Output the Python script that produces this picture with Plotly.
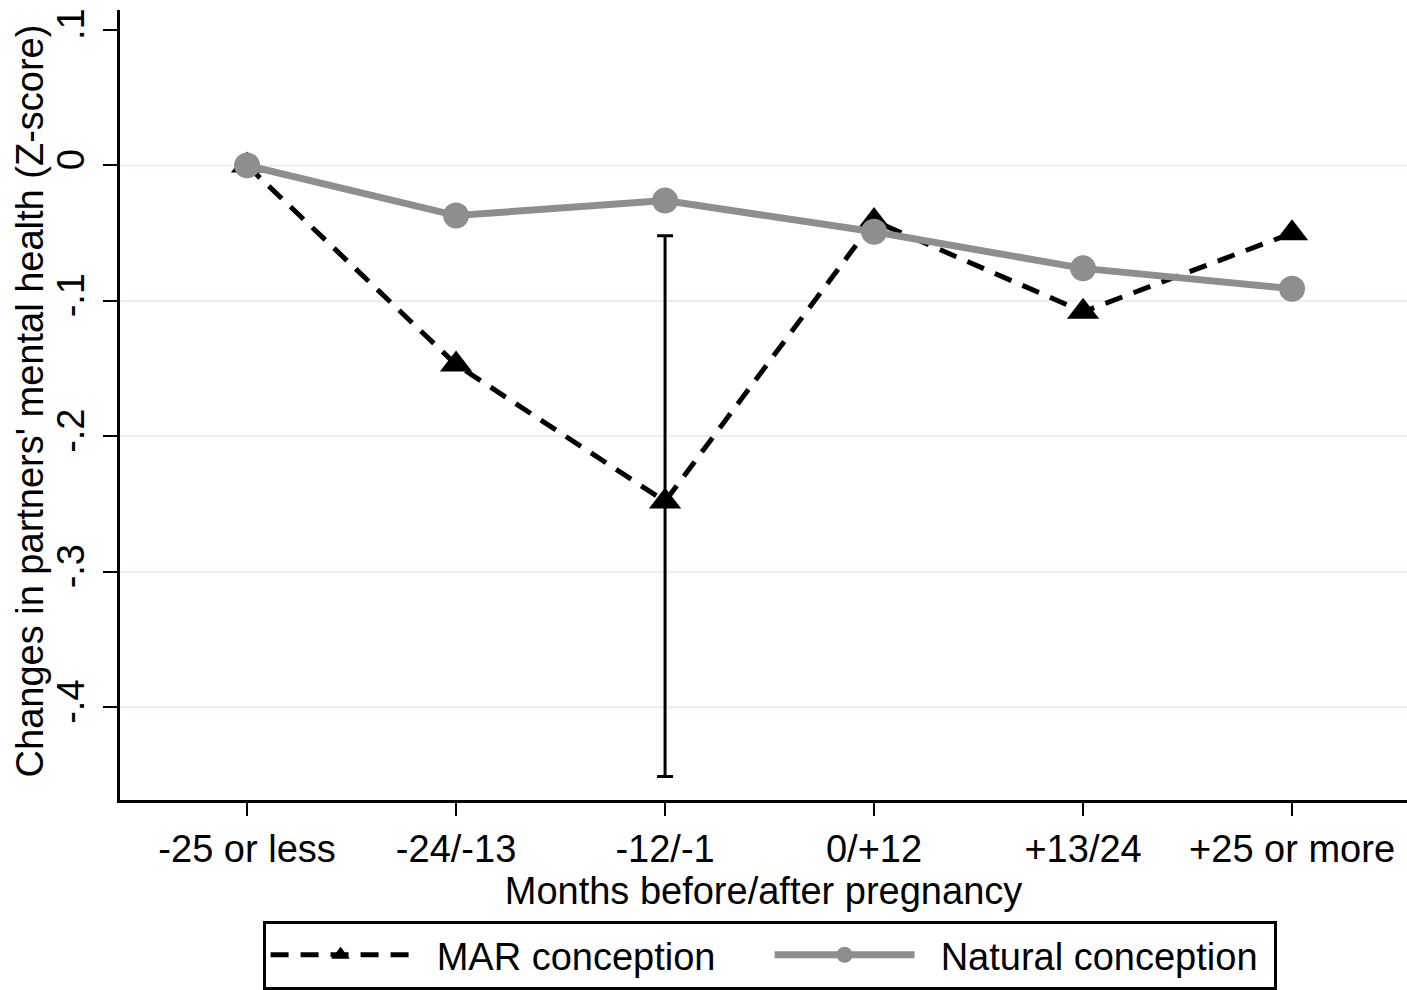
import plotly.graph_objects as go

categories = ["-25 or less", "-24/-13", "-12/-1", "0/+12", "+13/24", "+25 or more"]
mar_values = [0.0, -0.147, -0.248, -0.041, -0.108, -0.050]
natural_values = [0.0, -0.037, -0.026, -0.049, -0.076, -0.091]
mar_ci_lower = [None, None, -0.451, None, None, None]
mar_ci_upper = [None, None, -0.052, None, None, None]
y_tick_vals = [0.1, 0.0, -0.1, -0.2, -0.3, -0.4]
y_tick_text = [".1", "0", "-.1", "-.2", "-.3", "-.4"]
grid_vals = [0.0, -0.1, -0.2, -0.3, -0.4]
x_title = "Months before/after pregnancy"
y_title = "Changes in partners' mental health (Z-score)"

FONT = "Liberation Sans, Arial, sans-serif"
FS = 38
x_idx = list(range(len(categories)))

ci_x = [i for i in x_idx if mar_ci_lower[i] is not None]
ci_mid = [mar_values[i] for i in ci_x]
ci_plus = [mar_ci_upper[i] - mar_values[i] for i in ci_x]
ci_minus = [mar_values[i] - mar_ci_lower[i] for i in ci_x]

fig = go.Figure()

for g in grid_vals:
    fig.add_hline(y=g, line=dict(color="#E6EFF1", width=2), layer="below")

fig.add_trace(go.Scatter(
    x=ci_x, y=ci_mid, mode="markers",
    marker=dict(size=1, opacity=0),
    error_y=dict(type="data", symmetric=False, array=ci_plus, arrayminus=ci_minus,
                 color="black", thickness=3, width=8),
    showlegend=False, hoverinfo="skip"))

fig.add_trace(go.Scatter(
    x=x_idx, y=mar_values, mode="lines+markers", name="\u00a0\u00a0MAR conception",
    line=dict(color="black", width=5, dash="18px,12px"),
    marker=dict(symbol="triangle-up", size=28, color="black")))

fig.add_trace(go.Scatter(
    x=x_idx, y=natural_values, mode="lines+markers", name="\u00a0\u00a0Natural conception",
    line=dict(color="#8E8E8E", width=7),
    marker=dict(symbol="circle", size=26, color="#8E8E8E")))

fig.add_annotation(text=y_title, xref="paper", yref="paper", x=-0.0692, y=0.5057,
                   xanchor="center", yanchor="middle", showarrow=False, textangle=-90,
                   font=dict(family=FONT, size=FS, color="black"))

fig.update_layout(
    width=1407, height=990,
    margin=dict(l=120, r=0, t=10, b=187),
    paper_bgcolor="white", plot_bgcolor="white",
    font=dict(family=FONT, size=FS, color="black"),
    xaxis=dict(
        range=[-0.608, 5.55], tickvals=x_idx, ticktext=categories,
        showgrid=False, zeroline=False, showline=True, linecolor="black", linewidth=3,
        ticks="outside", ticklen=13, tickwidth=2, tickcolor="black",
        tickfont=dict(family=FONT, size=FS), automargin=False,
        title=dict(text=x_title, standoff=0, font=dict(family=FONT, size=FS)),
    ),
    yaxis=dict(
        range=[-0.4684, 0.1147], tickvals=y_tick_vals, ticktext=y_tick_text,
        showgrid=False, zeroline=False, showline=True, linecolor="black", linewidth=3,
        ticks="outside", ticklen=14, tickwidth=2, tickcolor="black",
        tickangle=-90, tickfont=dict(family=FONT, size=FS), automargin=False,
        ticklabelstandoff=4,
    ),
    legend=dict(
        orientation="h", x=0.5047, xanchor="center", y=-0.1526, yanchor="top",
        bordercolor="black", borderwidth=3, bgcolor="white",
        font=dict(family=FONT, size=FS), itemwidth=140,
        entrywidth=349, entrywidthmode="pixels",
    ),
)

fig.write_html("out.html", config={"displayModeBar": False},
               post_script="document.body.style.margin='0';document.body.style.overflow='hidden';")
